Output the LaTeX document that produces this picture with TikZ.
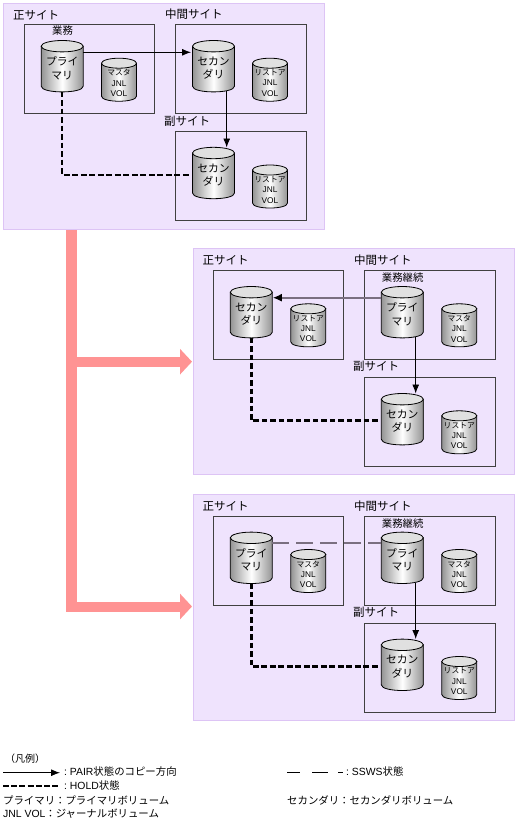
\documentclass[tikz,border=0pt]{standalone}
\usepackage{fontspec}
\setmainfont{Liberation Sans}
\newfontfamily\cjk{Noto Sans CJK JP}
\usetikzlibrary{arrows.meta}
\definecolor{panelfill}{HTML}{EFE3FD}
\definecolor{panelline}{HTML}{DDC4F5}
\definecolor{flowpink}{HTML}{FF9393}
\definecolor{ssws}{HTML}{7A6F80}
\tikzset{
  panel/.style={draw=panelline, fill=panelfill, line width=1pt, anchor=north west},
  sitebox/.style={draw=black!75, line width=1pt, minimum width=130.5pt, minimum height=89pt, anchor=north west},
  sitelabel/.style={font=\cjk\fontsize{11.5}{13}\selectfont, anchor=west, inner sep=0pt},
  joblabel/.style={font=\cjk\fontsize{10.4}{12}\selectfont, anchor=west, inner sep=0pt},
  volside/.style={draw=black, line width=.8pt, left color=black!42, right color=black!42, middle color=white},
  voltop/.style={draw=black, line width=.8pt, fill=black!12},
  volbox/.style={inner sep=0pt, outer sep=0pt},
  bigtext/.style={font=\cjk\fontsize{10.8}{13.5}\selectfont, align=center, inner sep=0pt},
  smalltext/.style={font=\fontsize{8.3}{10.3}\selectfont, align=center, inner sep=0pt},
  pair/.style={-{Latex[length=9pt,width=7pt]}, line width=.9pt},
  hold/.style={line width=2.5pt, dash pattern=on 5.6pt off 2.9pt},
  sswsline/.style={draw=ssws, line width=1.7pt, dash pattern=on 16.5pt off 7.5pt},
  flow/.style={draw=flowpink, line width=10.7pt},
  flowhead/.style={-{Triangle[length=12pt,width=25pt]}, draw=flowpink, line width=10pt},
  legend/.style={font=\fontsize{10.4}{12}\selectfont, anchor=west, inner sep=0pt}
}
% big cylinder: name, centre, text
\newcommand{\bigcyl}[3]{
  \begin{scope}[shift={(#2)}]
    \path[volside] (-21,-20) -- (-21,20) .. controls (-21,27.6) and (21,27.6) .. (21,20) -- (21,-20) -- cycle;
    \draw[voltop] (0,-20) ellipse [x radius=21pt, y radius=5.7pt];
    \node[volbox, minimum width=42pt, minimum height=51pt] (#1) at (0,0) {};
    \node[bigtext] (#1text) at (0,2) {#3};
  \end{scope}
}
% small cylinder: name, centre, first line
\newcommand{\smallcyl}[3]{
  \begin{scope}[shift={(#2)}]
    \path[volside] (-17.5,-16.5) -- (-17.5,16.5) .. controls (-17.5,23.2) and (17.5,23.2) .. (17.5,16.5) -- (17.5,-16.5) -- cycle;
    \draw[voltop] (0,-16.5) ellipse [x radius=17.5pt, y radius=5pt];
    \node[volbox, minimum width=35pt, minimum height=43pt] (#1) at (0,0) {};
    \node[smalltext] (#1text) at (0,3.3) {{\cjk\fontsize{7.8}{10.3}\selectfont #3}\\JNL\\VOL};
  \end{scope}
}
\begin{document}
\begin{tikzpicture}[x=1pt,y=-1pt]
  \useasboundingbox (0,0) rectangle (516,823);

  % Flow
  \coordinate (flowtop) at (71.5,229);
  \coordinate (flowbottom) at (71.5,611.5);
  \draw[flow] (flowtop) -- (flowbottom);
  \coordinate (flowa) at (71.5,361.7);
  \coordinate (flowb) at (71.5,606.5);
  \coordinate (flowaend) at (192,361.7);
  \coordinate (flowbend) at (192,606.5);
  \draw[flowhead] (flowa) -- (flowaend);
  \draw[flowhead] (flowb) -- (flowbend);

  % Panel 1
  \node[panel, minimum width=321pt, minimum height=226.7pt] (panela) at (3.3,2.7) {};
  \node[sitebox] (maina) at (23.7,24) {};
  \node[sitebox] (mida) at (175.3,24) {};
  \node[sitebox] (suba) at (175.3,130.7) {};
  \node[sitelabel] (mainlabela) at (13,15) {正サイト};
  \node[sitelabel] (midlabela) at (165,14.3) {中間サイト};
  \node[sitelabel] (sublabela) at (164,121) {副サイト};
  \node[joblabel] (joba) at (52,31) {業務};
  \bigcyl{pa}{62.2,66.2}{プライ\\マリ}
  \smallcyl{ma}{119,79.7}{マスタ}
  \bigcyl{sa}{213.5,66.2}{セカン\\ダリ}
  \smallcyl{ra}{270,79.7}{リストア}
  \bigcyl{ta}{213.5,173}{セカン\\ダリ}
  \smallcyl{ua}{270,186.5}{リストア}
  \draw[pair, shorten >=1.5pt] (pa.east |- 0,52.3) -- (sa.west |- 0,52.3);
  \draw[pair] (226.7,91) -- (226.7,147.5);
  \draw[hold, shorten >=3.5pt] (pa.south) -- (pa.south |- 0,175) -- (ta.west |- 0,175);

  % Panel 2
  \node[panel, minimum width=321.3pt, minimum height=226pt] (panelb) at (192.7,248) {};
  \node[sitebox] (mainb) at (212.5,269.5) {};
  \node[sitebox] (midb) at (364.3,269.5) {};
  \node[sitebox] (subb) at (364.3,376.5) {};
  \node[sitelabel] (mainlabelb) at (202.3,260.7) {正サイト};
  \node[sitelabel] (midlabelb) at (354,260) {中間サイト};
  \node[sitelabel] (sublabelb) at (353,366.7) {副サイト};
  \node[joblabel] (jobb) at (381.7,277.3) {業務継続};
  \bigcyl{sb}{251.3,312.2}{セカン\\ダリ}
  \smallcyl{rb}{308.3,325.3}{リストア}
  \bigcyl{pb}{402.3,312.2}{プライ\\マリ}
  \smallcyl{mb}{459.3,325.3}{マスタ}
  \bigcyl{tb}{402.3,419.2}{セカン\\ダリ}
  \smallcyl{ub}{459.3,432.3}{リストア}
  \draw[-{Latex[length=9pt,width=8pt,color=black]}, draw=ssws, line width=1.7pt, shorten >=.5pt] (pb.west |- 0,297.7) -- (sb.east |- 0,297.7);
  \draw[pair] (415.7,337) -- (415.7,393.5);
  \draw[hold, shorten >=3.5pt] (sb.south) -- (sb.south |- 0,420.7) -- (tb.west |- 0,420.7);

  % Panel 3
  \node[panel, minimum width=321.3pt, minimum height=226.7pt] (panelc) at (192.7,493.7) {};
  \node[sitebox] (mainc) at (212.5,515.7) {};
  \node[sitebox] (midc) at (364.3,515.7) {};
  \node[sitebox] (subc) at (364.3,622.5) {};
  \node[sitelabel] (mainlabelc) at (202.3,506.7) {正サイト};
  \node[sitelabel] (midlabelc) at (354,505.7) {中間サイト};
  \node[sitelabel] (sublabelc) at (353,612.3) {副サイト};
  \node[joblabel] (jobc) at (381.7,523.3) {業務継続};
  \bigcyl{pc}{251.3,557.8}{プライ\\マリ}
  \smallcyl{mc}{308.3,571}{マスタ}
  \bigcyl{qc}{402.3,557.8}{プライ\\マリ}
  \smallcyl{nc}{459.3,571}{マスタ}
  \bigcyl{tc}{402.3,664.8}{セカン\\ダリ}
  \smallcyl{uc}{459.3,678}{リストア}
  \draw[sswsline] (pc.east |- 0,542.7) -- (qc.west |- 0,542.7);
  \draw[pair] (415.7,583) -- (415.7,639);
  \draw[hold, shorten >=3.5pt] (pc.south) -- (pc.south |- 0,666.7) -- (tc.west |- 0,666.7);

  % Legend
  \node[legend] (legendhead) at (5,759) {\cjk\fontsize{10}{12}\selectfont （凡例）};
  \coordinate (pairfrom) at (3,772.7);
  \coordinate (pairto) at (60,772.7);
  \draw[pair] (pairfrom) -- (pairto);
  \node[legend] (pairtext) at (64,772) {:\ PAIR{\cjk 状態のコピー方向}};
  \coordinate (holdfrom) at (3,786);
  \coordinate (holdto) at (60,786);
  \draw[hold, line width=2pt, dash pattern=on 6pt off 2.2pt] (holdfrom) -- (holdto);
  \node[legend] (holdtext) at (64,785.7) {:\ HOLD{\cjk 状態}};
  \node[legend] (primtext) at (3,800) {\cjk プライマリ：プライマリボリューム};
  \node[legend] (jnltext) at (3,814) {JNL VOL{\cjk ：ジャーナルボリューム}};
  \coordinate (sswsfrom) at (287,772.5);
  \coordinate (sswsto) at (343,772.5);
  \draw[draw=black, line width=.8pt, dash pattern=on 13pt off 12pt on 16pt off 10pt on 5pt off 5pt] (sswsfrom) -- (sswsto);
  \node[legend] (sswstext) at (346,772) {:\ SSWS{\cjk 状態}};
  \node[legend] (sectext) at (287,800) {\cjk セカンダリ：セカンダリボリューム};
\end{tikzpicture}
\end{document}
